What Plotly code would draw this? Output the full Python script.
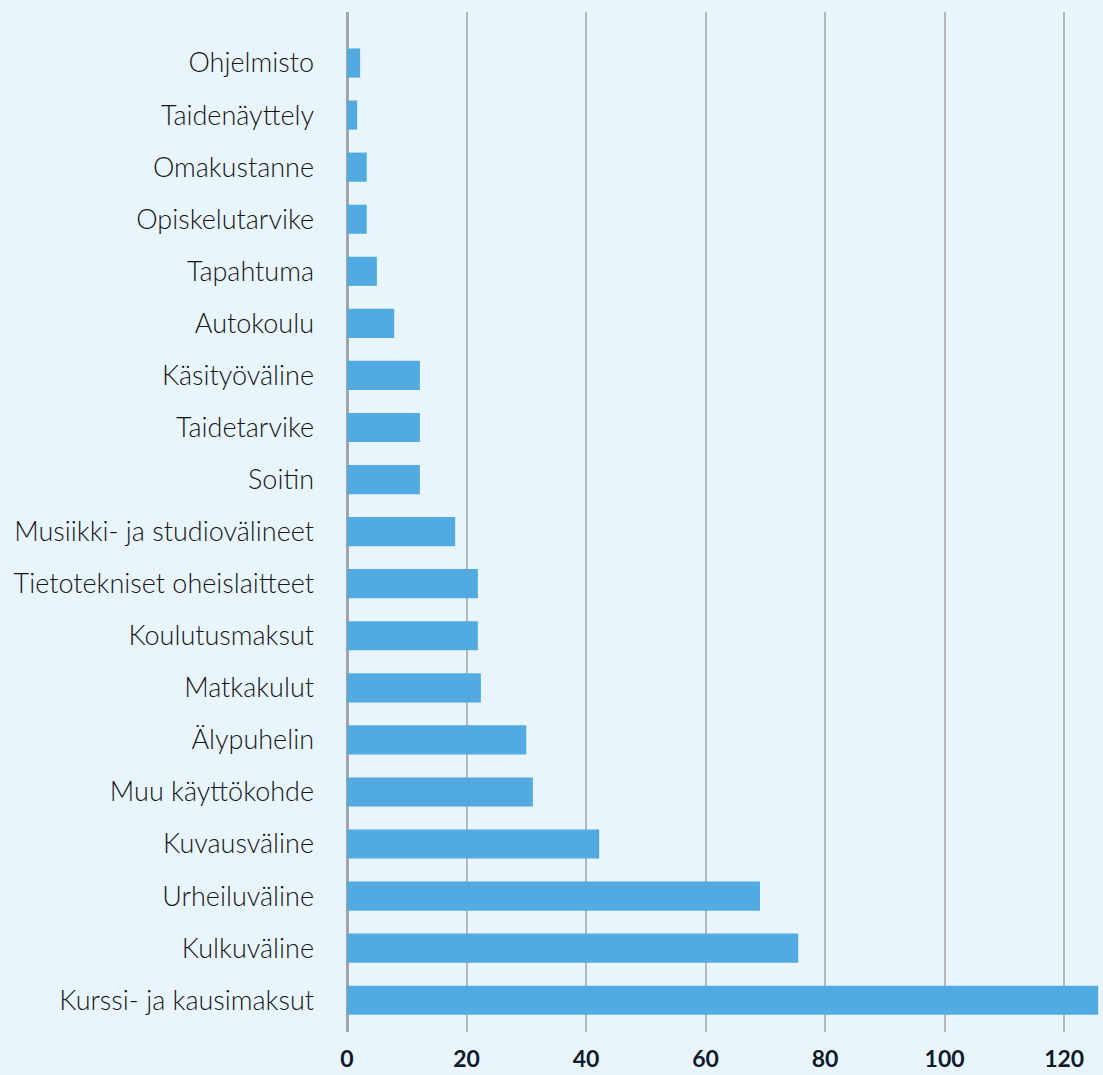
import plotly.graph_objects as go

categories = ["Kurssi- ja kausimaksut", "Kulkuväline", "Urheiluväline", "Kuvausväline",
              "Muu käyttökohde", "Älypuhelin", "Matkakulut", "Koulutusmaksut",
              "Tietotekniset oheislaitteet", "Musiikki- ja studiovälineet", "Soitin",
              "Taidetarvike", "Käsityöväline", "Autokoulu", "Tapahtuma",
              "Opiskelutarvike", "Omakustanne", "Taidenäyttely", "Ohjelmisto"]
values = [125.7, 75.5, 69.1, 42.2, 31.1, 30.0, 22.4, 21.9, 21.9, 18.1, 12.2,
          12.2, 12.2, 7.9, 5.0, 3.3, 3.3, 1.7, 2.2]
x_ticks = [0, 20, 40, 60, 80, 100, 120]

fig = go.Figure(go.Bar(
    y=categories, x=values, orientation="h",
    marker=dict(color="#51ABE0", line=dict(width=0)),
    width=0.56,
))

fig.update_layout(
    width=1103, height=1075,
    margin=dict(l=347, r=0, t=12, b=43),
    paper_bgcolor="#E9F5FD", plot_bgcolor="#E9F5FD",
    showlegend=False,
    font=dict(family="Lato", color="#1a1a1a"),
)
fig.update_xaxes(
    range=[0, 126.5], tickvals=x_ticks,
    showgrid=True, gridcolor="#B5B8BB", gridwidth=2,
    zeroline=True, zerolinecolor="#A3A5A8", zerolinewidth=3,
    tickfont=dict(family="Lato", size=23, color="#0F1B2A", weight="bold"),
    ticklabelstandoff=11, showline=False, ticks="", automargin=False,
)
fig.update_yaxes(
    categoryorder="array", categoryarray=categories,
    range=[-0.61, 18.98],
    showgrid=False, zeroline=False, showline=False, ticks="",
    tickfont=dict(family="Lato", size=27, color="#151515", weight=300),
    ticklabelstandoff=32, automargin=False,
)

fig.write_html("out.html", config={"displayModeBar": False},
               post_script="document.body.style.margin='0';document.body.style.overflow='hidden';")
